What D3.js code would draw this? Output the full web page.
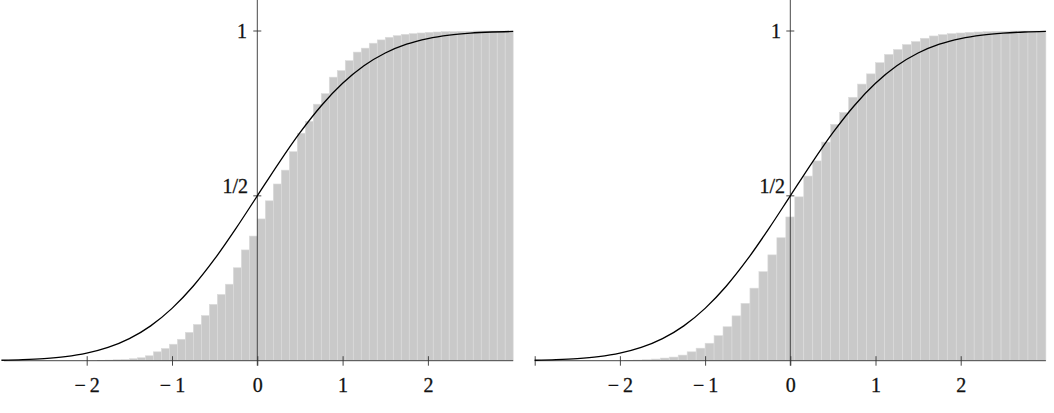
<!DOCTYPE html>
<html>
<head>
<meta charset="utf-8">
<script src="https://cdn.jsdelivr.net/npm/d3@7"></script>
<style>
  html, body { margin: 0; padding: 0; background: #fff; }
  svg { display: block; }
  text { font-family: "Liberation Serif", "DejaVu Serif", serif; fill: #111; stroke: #111; stroke-width: 0.3; }
</style>
</head>
<body>
<svg id="chart" width="1054" height="413"></svg>
<script>
// ---------------- data ----------------
// x-axis tick values and labels
const xTicks = [-2, -1, 0, 1, 2];
const xTickLabels = ["\u2212\u20092", "\u2212\u20091", "0", "1", "2"];
const yTicks = [1, 0.5];
const yTickLabels = ["1", "1/2"];

// Histogram (left panel): 64 equal bins over [-3, 3]
const leftBinRange = [-3, 3];
const leftValues = [
  0, 0, 0, 0, 0, 0, 0, 0, 0, 0, 0, 0,
  0.001, 0.002, 0.003, 0.004, 0.006, 0.009, 0.015, 0.027, 0.037, 0.050,
  0.065, 0.086, 0.110, 0.137, 0.171, 0.201, 0.232, 0.282, 0.336, 0.378,
  0.430, 0.485, 0.536, 0.578, 0.634, 0.690, 0.726, 0.778, 0.810, 0.860,
  0.880, 0.910, 0.936, 0.948, 0.963, 0.973, 0.981, 0.986, 0.990, 0.992,
  0.994, 0.996, 0.997, 0.998, 0.998, 0.999, 0.999, 1, 1, 1, 1, 1
];

// Histogram (right panel): 57 equal bins over [-3, 3]
const rightBinRange = [-3, 3];
const rightValues = [
  0, 0, 0, 0, 0, 0, 0, 0, 0, 0,
  0.001, 0.002, 0.003, 0.005, 0.008, 0.011, 0.017, 0.027, 0.038, 0.053,
  0.076, 0.103, 0.136, 0.174, 0.220, 0.270, 0.321, 0.373, 0.436, 0.497,
  0.560, 0.606, 0.663, 0.717, 0.753, 0.799, 0.839, 0.870, 0.904, 0.929,
  0.944, 0.959, 0.968, 0.978, 0.985, 0.989, 0.992, 0.994, 0.996, 0.997,
  0.998, 0.999, 0.999, 1, 1, 1, 1
];

// Smooth curve (same in both panels)
const curveX = [-3, -2.75, -2.5, -2.25, -2, -1.75, -1.5, -1.25, -1, -0.75, -0.5, -0.25,
                 0, 0.25, 0.5, 0.75, 1, 1.25, 1.5, 1.75, 2, 2.25, 2.5, 2.75, 3];
const curveY = [0.0013, 0.0030, 0.0062, 0.0122, 0.0228, 0.0401, 0.0668, 0.1056, 0.1587,
                0.2266, 0.3085, 0.4013, 0.5, 0.5987, 0.6915, 0.7734, 0.8413, 0.8944,
                0.9332, 0.9599, 0.9772, 0.9878, 0.9938, 0.9970, 0.9987];

// ---------------- drawing ----------------
const svg = d3.select("#chart");
const FS = 20;

const panels = [
  { values: leftValues, binRange: leftBinRange, x0: 257.3, unit: 85.3, axisStart: -2.97,
    extraTicks: [], oneLabelRight: 247, halfLabelRight: 248 },
  { values: rightValues, binRange: rightBinRange, x0: 790.3, unit: 85.2, axisStart: -3,
    extraTicks: [-3], oneLabelRight: 781, halfLabelRight: 785 }
];

const y = d3.scaleLinear().domain([0, 1]).range([360.7, 31]);

panels.forEach(p => {
  const x = d3.scaleLinear().domain([-3, 3]).range([p.x0 - 3 * p.unit, p.x0 + 3 * p.unit]);
  const g = svg.append("g");

  // bars
  const n = p.values.length;
  const bw = (p.binRange[1] - p.binRange[0]) / n;
  const bins = p.values.map((v, i) => ({ a: p.binRange[0] + i * bw, b: p.binRange[0] + (i + 1) * bw, v }));
  g.append("g").selectAll("rect").data(bins.filter(d => d.v > 0)).join("rect")
    .attr("x", d => x(d.a))
    .attr("width", d => x(d.b) - x(d.a))
    .attr("y", d => y(d.v))
    .attr("height", d => y(0) - y(d.v))
    .attr("fill", "#c9c9c9")
    .attr("stroke", "#dcdcdc")
    .attr("stroke-width", 0.6);

  // x axis line
  g.append("line")
    .attr("x1", x(p.axisStart)).attr("x2", x(3))
    .attr("y1", y(0)).attr("y2", y(0))
    .attr("stroke", "#333").attr("stroke-width", 0.9);

  // x ticks via d3 axis
  const xa = d3.axisBottom(x)
    .tickValues(xTicks.concat(p.extraTicks))
    .tickSize(5)
    .tickPadding(12)
    .tickFormat(d => { const i = xTicks.indexOf(d); return i >= 0 ? xTickLabels[i] : ""; });
  const xg = g.append("g").attr("transform", `translate(0,${y(0)})`).call(xa);
  xg.select(".domain").remove();
  xg.selectAll(".tick line").attr("y1", -4.5).attr("stroke", "#333").attr("stroke-width", 0.9);
  xg.selectAll(".tick text")
    .attr("font-size", FS)
    .attr("font-family", "Liberation Serif, DejaVu Serif, serif")
    .attr("fill", "#111");

  // y axis line
  g.append("line")
    .attr("x1", x(0)).attr("x2", x(0))
    .attr("y1", 0).attr("y2", y(0) + 5)
    .attr("stroke", "#333").attr("stroke-width", 0.9);

  // y ticks
  g.selectAll("line.yt").data(yTicks).join("line")
    .attr("class", "yt")
    .attr("x1", x(0) - 4).attr("x2", x(0) + 4)
    .attr("y1", d => y(d)).attr("y2", d => y(d))
    .attr("stroke", "#333").attr("stroke-width", 0.9);

  // y labels
  g.append("text").text(yTickLabels[0])
    .attr("x", p.oneLabelRight).attr("y", y(yTicks[0]) + 6.5)
    .attr("text-anchor", "end").attr("font-size", FS);
  g.append("text").text(yTickLabels[1])
    .attr("x", p.halfLabelRight).attr("y", y(yTicks[1]) - 3)
    .attr("text-anchor", "end").attr("font-size", FS);

  // curve
  const line = d3.line()
    .x((d, i) => x(curveX[i]))
    .y(d => y(d))
    .curve(d3.curveMonotoneX);
  g.append("path")
    .datum(curveY)
    .attr("d", line)
    .attr("fill", "none")
    .attr("stroke", "#000")
    .attr("stroke-width", 1.3);
});
</script>
</body>
</html>
